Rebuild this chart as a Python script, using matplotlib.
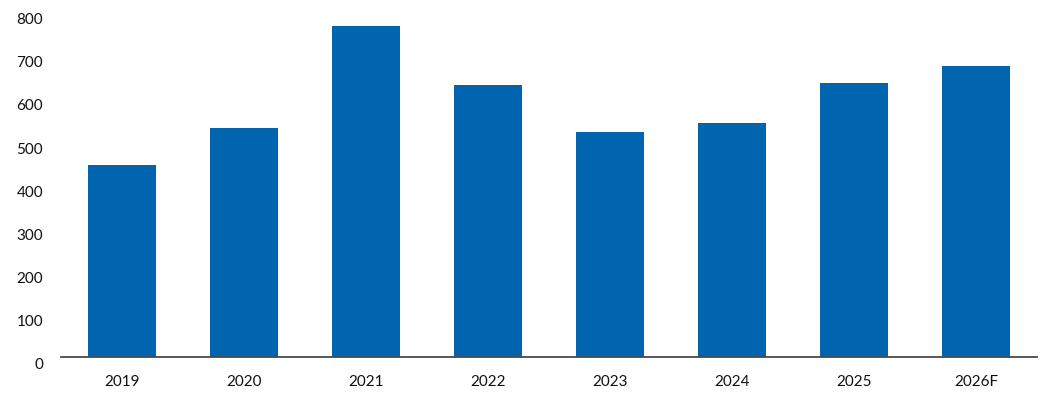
import matplotlib.pyplot as plt
import matplotlib.transforms as mtransforms

years = ['2019', '2020', '2021', '2022', '2023', '2024', '2025', '2026F']
values = [445, 530, 766, 631, 522, 543, 634, 673]
yticks = [0, 100, 200, 300, 400, 500, 600, 700, 800]

plt.rcParams['font.family'] = ['Lato', 'DejaVu Sans']

fig = plt.figure(figsize=(10.56, 4.12), dpi=100)
ax = fig.add_axes([61 / 1056, 1 - 356.7 / 412, 976 / 1056, 345 / 412])

x = range(len(years))
ax.bar(x, values, width=0.565, color='#0065ae')

ax.set_xlim(-0.5, len(years) - 0.5)
ax.set_ylim(0, 800)
ax.set_xticks(list(x))
ax.set_xticklabels(years)
ax.set_yticks(yticks)
ax.set_yticklabels([str(v) for v in yticks])

for s in ['top', 'right', 'left']:
    ax.spines[s].set_visible(False)
ax.spines['bottom'].set_color('#4a4a4a')
ax.spines['bottom'].set_linewidth(1.3)

ax.tick_params(axis='both', length=0, labelsize=11, labelcolor='#111111')
ax.tick_params(axis='y', pad=13)
ax.tick_params(axis='x', pad=13)

# tick labels sit slightly below their gridline positions
off = mtransforms.ScaledTranslation(0, -7 / 100, fig.dpi_scale_trans)
for lab in ax.get_yticklabels():
    lab.set_transform(lab.get_transform() + off)

fig.savefig('out.png', dpi=100)
